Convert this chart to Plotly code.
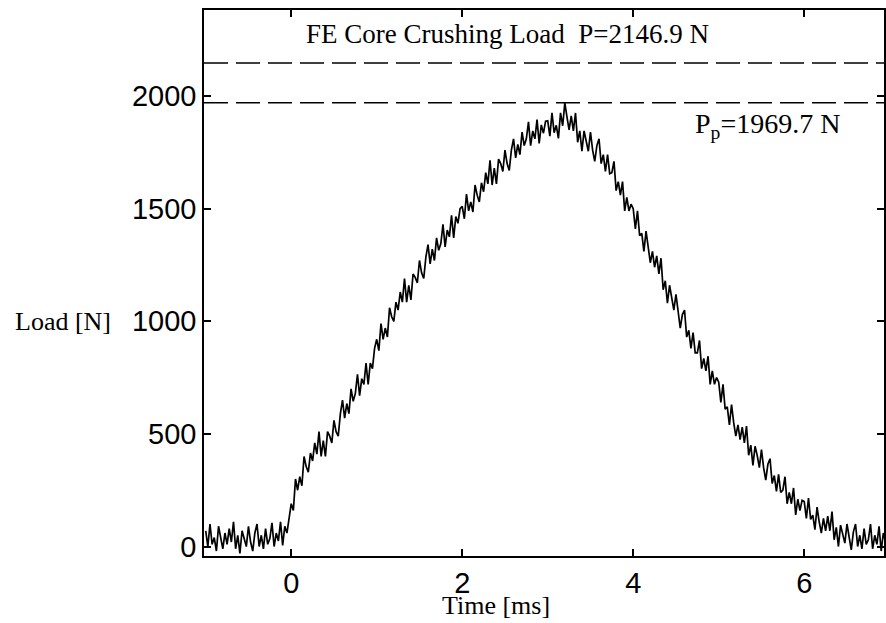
import plotly.graph_objects as go

# Load signal sampled every 0.025 ms starting at t = -1.0 ms
sample_start = -1.0
sample_step = 0.025
load = [
    70, 0, 100, 10, 40, -20, 90, 30, -10, 60,
    10, 80, 20, 110, -10, 50, -30, 70, 40, 0,
    90, 20, -20, 60, 100, 0, 50, -10, 80, 10,
    35, 105, 0, 60, 25, 110, 5, 90, 60, 130,
    190, 160, 300, 250, 310, 270, 400, 355, 330, 415,
    380, 460, 410, 510, 400, 470, 400, 510, 490, 460,
    560, 510, 490, 590, 650, 570, 635, 590, 700, 645,
    680, 765, 670, 745, 720, 815, 720, 815, 790, 880,
    920, 870, 990, 920, 970, 930, 1060, 1020, 1000, 1085,
    1050, 1130, 1085, 1190, 1085, 1160, 1095, 1210, 1195, 1170,
    1270, 1215, 1190, 1285, 1340, 1255, 1320, 1270, 1370, 1315,
    1345, 1430, 1330, 1405, 1375, 1470, 1370, 1465, 1435, 1500,
    1510, 1455, 1565, 1490, 1530, 1485, 1605, 1560, 1530, 1615,
    1575, 1660, 1610, 1715, 1605, 1680, 1610, 1720, 1700, 1665,
    1760, 1700, 1670, 1760, 1810, 1725, 1785, 1740, 1840, 1780,
    1810, 1885, 1780, 1845, 1810, 1895, 1790, 1872, 1835, 1888,
    1890, 1822, 1925, 1837, 1870, 1812, 1925, 1868, 1969.7, 1908,
    1850, 1912, 1845, 1925, 1795, 1845, 1755, 1845, 1805, 1755,
    1840, 1760, 1710, 1780, 1810, 1700, 1740, 1665, 1740, 1655,
    1660, 1710, 1580, 1620, 1560, 1620, 1490, 1550, 1490, 1520,
    1500, 1410, 1490, 1380, 1390, 1310, 1400, 1320, 1260, 1310,
    1240, 1290, 1210, 1280, 1140, 1180, 1080, 1160, 1110, 1050,
    1120, 1030, 970, 1030, 1050, 930, 960, 880, 950, 860,
    860, 915, 790, 835, 780, 845, 720, 780, 720, 750,
    730, 640, 720, 610, 620, 540, 630, 550, 490, 540,
    475, 530, 460, 535, 405, 450, 360, 445, 405, 350,
    430, 350, 295, 365, 390, 280, 315, 245, 320, 240,
    250, 310, 190, 240, 190, 260, 140, 210, 160, 205,
    200, 125, 215, 120, 140, 75, 175, 110, 60, 125,
    70, 135, 70, 155, 30, 85, 0, 95, 60, 15,
    100, 30, -15, 65, 100, 0, 50, -10, 80, 10,
    30, 100, -10, 50, 10, 90, -20, 60, 20, 70,
]
time_ms = [sample_start + i * sample_step for i in range(len(load))]

fe_crush_load = 2146.9
peak_load = 1969.7

x_ticks = [0, 2, 4, 6]
y_ticks = [0, 500, 1000, 1500, 2000]

fig = go.Figure()
fig.add_trace(go.Scatter(x=time_ms, y=load, mode="lines",
                         line=dict(color="black", width=1.7),
                         showlegend=False, hoverinfo="skip"))

for level in (fe_crush_load, peak_load):
    fig.add_shape(type="line", xref="paper", x0=0, x1=1, yref="y",
                  y0=level, y1=level,
                  line=dict(color="black", width=1.5, dash="24px,8px"))

serif = "Liberation Serif, Times New Roman, serif"
fig.add_annotation(x=0.155, y=2275, xref="x", yref="y", xanchor="left",
                   yanchor="middle", showarrow=False,
                   text=f"FE Core Crushing Load&nbsp;&nbsp;P={fe_crush_load} N",
                   font=dict(family=serif, size=27, color="black"))
fig.add_annotation(x=4.70, y=1958, xref="x", yref="y", xanchor="left",
                   yanchor="top", showarrow=False,
                   text=f"P<sub>p</sub>={peak_load} N",
                   font=dict(family=serif, size=28, color="black"))
fig.add_annotation(x=-0.2815, y=1000, xref="paper", yref="y", xanchor="left",
                   yanchor="middle", showarrow=False, text="Load [N]",
                   font=dict(family=serif, size=26, color="black"))
fig.add_annotation(x=2.4, y=-0.061, xref="x", yref="paper", xanchor="center",
                   yanchor="top", showarrow=False, text="Time [ms]",
                   font=dict(family=serif, size=26, color="black"))

axis_common = dict(showline=True, linecolor="black", linewidth=1.5,
                   mirror="ticks", ticks="inside", ticklen=7, tickwidth=1.5,
                   tickcolor="black", showgrid=False, zeroline=False,
                   tickfont=dict(family="Liberation Sans, Arial, sans-serif",
                                 size=29, color="black"))

fig.update_xaxes(range=[-1.02, 6.933], tickvals=x_ticks, **axis_common)
fig.update_yaxes(range=[-42, 2382], tickvals=y_ticks, **axis_common)

fig.update_layout(width=886, height=623,
                  margin=dict(l=204, r=0, t=10, b=67),
                  paper_bgcolor="white", plot_bgcolor="white")

fig.write_html("out.html")
